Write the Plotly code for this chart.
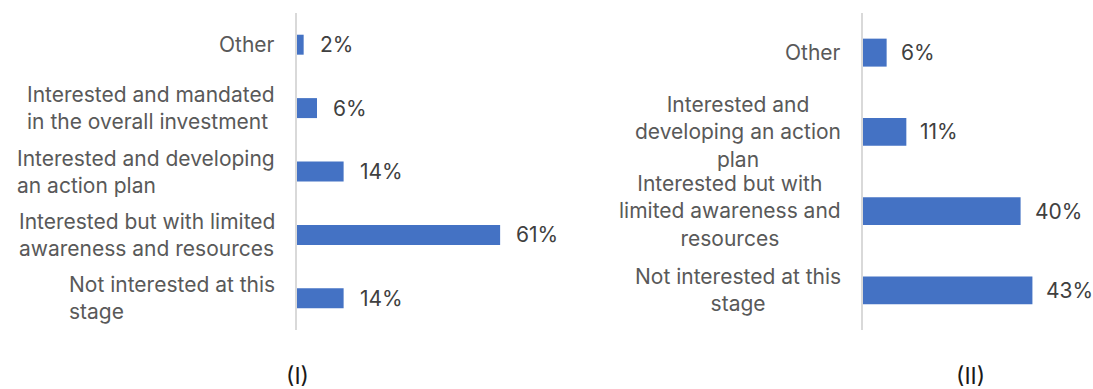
import plotly.graph_objects as go

# Panel (I)
cats_1 = [
    "Other",
    "Interested and mandated<br>in the overall investment",
    "Interested and developing<br>an action plan",
    "Interested but with limited<br>awareness and resources",
    "Not interested at this<br>stage",
]
vals_1 = [2, 6, 14, 61, 14]

# Panel (II)
cats_2 = [
    "Other",
    "Interested and<br>developing an action<br>plan",
    "Interested but with<br>limited awareness and<br>resources",
    "Not interested at this<br>stage",
]
vals_2 = [6, 11, 40, 43]

panel_titles = ["(I)", "(II)"]

W, H = 1093, 389
BAR = "#4472C4"
LABEL = "#595959"
FONT = "Inter"
FS = 21

fig = go.Figure()

fig.add_trace(go.Bar(
    y=list(range(len(cats_1))), x=vals_1, orientation="h",
    marker=dict(color=BAR, line=dict(width=0)), width=0.315,
    xaxis="x", yaxis="y", hoverinfo="skip",
))
fig.add_trace(go.Bar(
    y=list(range(len(cats_2))), x=vals_2, orientation="h",
    marker=dict(color=BAR, line=dict(width=0)), width=0.353,
    xaxis="x2", yaxis="y2", hoverinfo="skip",
))

y_dom = [(H - 330) / H, (H - 13) / H]
axis_left_1, axis_left_2 = 297 / W, 863 / W

common_x = dict(showgrid=False, zeroline=False, showticklabels=False, showline=False, fixedrange=True)
common_y = dict(showgrid=False, zeroline=False, showticklabels=False, ticks="",
                showline=True, linecolor="#d9d9d9", linewidth=2, fixedrange=True)

fig.update_layout(
    width=W, height=H,
    margin=dict(l=0, r=0, t=0, b=0),
    paper_bgcolor="white", plot_bgcolor="white",
    showlegend=False,
    font=dict(family=FONT, size=FS, color=LABEL),
    xaxis=dict(domain=[axis_left_1, 560 / W], range=[0, 263 / 3.33], anchor="y", **common_x),
    yaxis=dict(domain=y_dom, range=[len(cats_1) - 0.5, -0.5], anchor="x", **common_y),
    xaxis2=dict(domain=[axis_left_2, 1.0], range=[0, 230 / 3.94], anchor="y2", **common_x),
    yaxis2=dict(domain=y_dom, range=[len(cats_2) - 0.5, -0.5], anchor="x2", **common_y),
)

annotations = []
# Category labels
for i, c in enumerate(cats_1):
    annotations.append(dict(
        text=c, x=277 / W, xref="paper", y=i, yref="y",
        xanchor="right", yanchor="middle", align="left", showarrow=False,
        font=dict(family=FONT, size=FS, color=LABEL),
    ))
for i, c in enumerate(cats_2):
    annotations.append(dict(
        text=c, x=843 / W, xref="paper", y=i, yref="y2",
        xanchor="right", yanchor="middle", align="center", showarrow=False,
        font=dict(family=FONT, size=FS, color=LABEL),
    ))
# Value labels
for i, v in enumerate(vals_1):
    annotations.append(dict(
        text=f"{v}%", x=v, xref="x", y=i, yref="y", xanchor="left", yanchor="middle",
        xshift=14, showarrow=False, font=dict(family=FONT, size=FS, color="#404040"),
    ))
for i, v in enumerate(vals_2):
    annotations.append(dict(
        text=f"{v}%", x=v, xref="x2", y=i, yref="y2", xanchor="left", yanchor="middle",
        xshift=12, showarrow=False, font=dict(family=FONT, size=FS, color="#404040"),
    ))
# Panel titles
for t, px in zip(panel_titles, [297, 970]):
    annotations.append(dict(
        text=t, x=px / W, xref="paper", y=(H - 376) / H, yref="paper",
        xanchor="center", yanchor="middle", showarrow=False,
        font=dict(family=FONT, size=23, color="#1a1a1a"),
    ))

fig.update_layout(annotations=annotations)

fig.write_html("out.html")
